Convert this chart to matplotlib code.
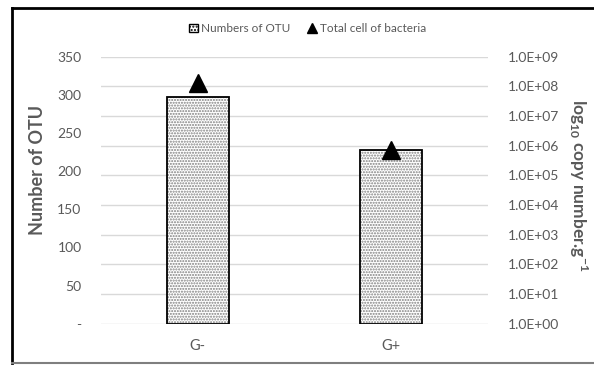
import matplotlib.pyplot as plt
from matplotlib.patches import Patch
from matplotlib.lines import Line2D

plt.rcParams['font.family'] = ['Lato', 'DejaVu Sans']
plt.rcParams['mathtext.fontset'] = 'custom'
plt.rcParams['mathtext.bf'] = 'Lato:bold'
plt.rcParams['mathtext.rm'] = 'Lato'
plt.rcParams['hatch.linewidth'] = 1.0

groups = ['G-', 'G+']
otu_counts = [297, 228]
total_cells = [1.3e8, 7.4e5]
left_ticks = [0, 50, 100, 150, 200, 250, 300, 350]
left_labels = ['-', '50', '100', '150', '200', '250', '300', '350']
right_ticks = [1e0, 1e1, 1e2, 1e3, 1e4, 1e5, 1e6, 1e7, 1e8, 1e9]
right_labels = ['1.0E+00', '1.0E+01', '1.0E+02', '1.0E+03', '1.0E+04',
                '1.0E+05', '1.0E+06', '1.0E+07', '1.0E+08', '1.0E+09']

grey = '#595959'

fig = plt.figure(figsize=(5.94, 3.65), dpi=100)
ax = fig.add_axes([0.170, 0.1132, 0.6515, 0.7315])
ax2 = ax.twinx()

x = list(range(len(groups)))
ax.bar(x, otu_counts, width=0.32, color='white', edgecolor='#808080',
       hatch='......', linewidth=0, zorder=3)
ax.bar(x, otu_counts, width=0.32, fill=False, edgecolor='black',
       linewidth=1.3, zorder=4)
ax.set_xlim(-0.5, 1.5)
ax.set_ylim(0, 350)
ax.set_yticks(left_ticks)
ax.set_yticklabels(left_labels)
ax.set_xticks(x)
ax.set_xticklabels(groups)
ax.tick_params(axis='both', length=0, colors=grey, labelsize=10)
ax.tick_params(axis='y', pad=14)
ax.tick_params(axis='x', pad=11, labelsize=10.5)
ax.set_ylabel('Number of OTU', color=grey, fontsize=13, fontweight='bold')
ax.yaxis.set_label_coords(-0.143, 0.576)
for s in ax.spines.values():
    s.set_visible(False)

ax2.set_yscale('log')
ax2.set_ylim(1e0, 1e9)
ax2.set_yticks(right_ticks)
ax2.set_yticklabels(right_labels)
ax2.minorticks_off()
ax2.tick_params(axis='y', length=0, colors=grey, labelsize=10, pad=14)
ax2.grid(axis='y', color='#d9d9d9', linewidth=1)
ax2.set_ylabel(r'log$_{\mathbf{10}}$ copy number.g$^{\mathbf{-1}}$', color=grey,
               fontsize=12.5, fontweight='bold', rotation=270, va='center')
ax2.yaxis.set_label_coords(1.232, 0.52)
for s in ax2.spines.values():
    s.set_visible(False)

# bars axis on top of the grid axis; triangles drawn on bar axis in log coords
ax.set_zorder(ax2.get_zorder() + 1)
ax.patch.set_visible(False)
ax.plot(x, total_cells, linestyle='none', marker='^', markersize=13.5,
        color='black', zorder=5, transform=ax2.transData, clip_on=False)

handles = [Patch(facecolor='white', edgecolor='black', hatch='.....'),
           Line2D([], [], linestyle='none', marker='^', color='black', markersize=7)]
fig.legend(handles, ['Numbers of OTU', 'Total cell of bacteria'],
           loc='center', bbox_to_anchor=(0.518, 0.922), ncol=2, frameon=False,
           fontsize=8.5, labelcolor=grey, handlelength=0.7, handletextpad=0.3,
           columnspacing=1.5)

# chart area border
fig.add_artist(Line2D([0.021, 0.021], [0.006, 0.978], color='black', linewidth=2,
                      transform=fig.transFigure))
fig.add_artist(Line2D([0.021, 1.0], [0.978, 0.978], color='black', linewidth=2,
                      transform=fig.transFigure))
fig.add_artist(Line2D([0.021, 1.0], [0.006, 0.006], color='#7f7f7f', linewidth=1.5,
                      transform=fig.transFigure))

fig.savefig('out.png', dpi=100)
